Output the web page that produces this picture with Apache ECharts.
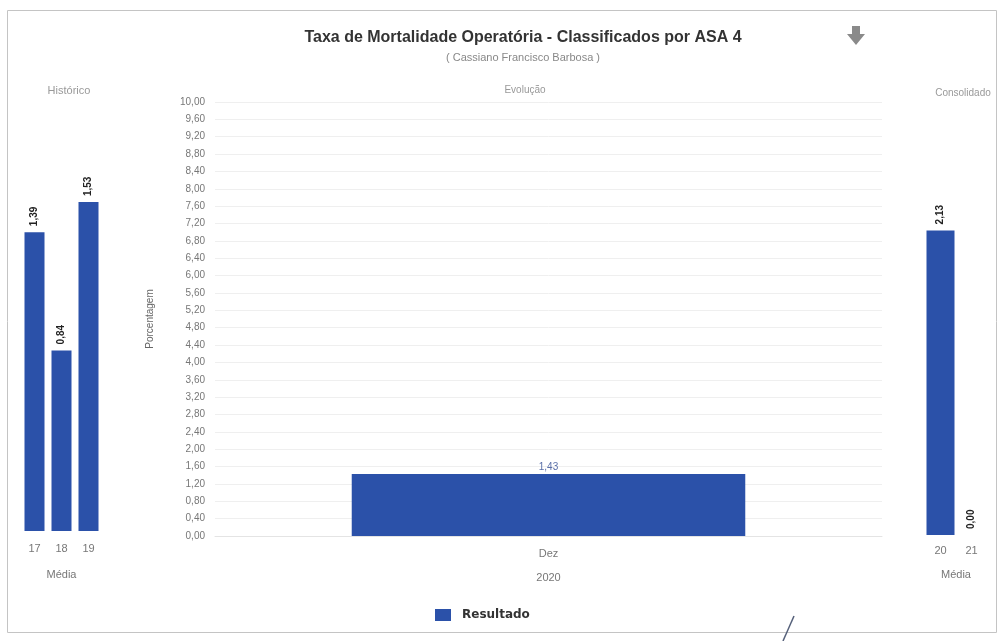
<!DOCTYPE html>
<html>
<head>
<meta charset="utf-8">
<script src="https://cdn.jsdelivr.net/npm/echarts@6/dist/echarts.min.js"></script>
<style>
  html, body { margin: 0; padding: 0; background: #fff; }
  #chart { width: 999px; height: 641px; }
</style>
</head>
<body>
<div id="chart"></div>
<script>
// dados
var histCats = ['17', '18', '19'];
var histValues = [1.39, 0.84, 1.53];
var evoCats = ['Dez'];
var evoValues = [1.43];
var consCats = ['20', '21'];
var consValues = [2.13, 0.00];
var evoMin = 0, evoMax = 10, evoStep = 0.4;

var azul = '#2b51a9';
var fonte = '"Liberation Sans", Arial, sans-serif';

function virgula(v) {
	return Number(v).toFixed(2).replace('.', ',');
}

// rótulo girado dos painéis laterais
var rotuloLateral = {
	show: true,
	position: 'top',
	rotate: 90,
	align: 'left',
	verticalAlign: 'middle',
	distance: 6,
	fontSize: 10,
	fontWeight: 'bold',
	color: '#222',
	fontFamily: fonte,
	formatter: function (p) { return virgula(p.value); }
};

const grafico = echarts.init(document.getElementById('chart'));
const opcoes = {
	animation: false,
	textStyle: { fontFamily: fonte },
	title: [
		{
			text: 'Taxa de Mortalidade Operatória - Classificados por ASA 4',
			subtext: '( Cassiano Francisco Barbosa )',
			left: 518, top: 25, textAlign: 'center', itemGap: 6,
			textStyle: { fontSize: 16, fontWeight: 'bold', color: '#333', fontFamily: fonte },
			subtextStyle: { fontSize: 11, color: '#888', fontFamily: fonte }
		},
		{ text: 'Histórico', left: 64, top: 80, textAlign: 'center',
			textStyle: { fontSize: 11, fontWeight: 'normal', color: '#999' } },
		{ text: 'Evolução', left: 520, top: 80, textAlign: 'center',
			textStyle: { fontSize: 10, fontWeight: 'normal', color: '#999' } },
		{ text: 'Consolidado', left: 958, top: 83, textAlign: 'center',
			textStyle: { fontSize: 10, fontWeight: 'normal', color: '#999' } }
	],
	legend: {
		data: ['Resultado'],
		icon: 'rect',
		left: 430, top: 604,
		itemWidth: 16, itemHeight: 12,
		textStyle: { fontSize: 12, fontWeight: 'bold', color: '#333', fontFamily: '"DejaVu Sans", sans-serif', padding: [0, 0, 0, 6] }
	},
	grid: [
		{ left: 21, width: 81, top: 101, bottom: 110 },
		{ left: 215, right: 117, top: 102, bottom: 105 },
		{ left: 925, width: 62, top: 106, bottom: 106 }
	],
	xAxis: [
		{
			gridIndex: 0, type: 'category', data: histCats,
			name: 'Média', nameLocation: 'middle', nameGap: 38,
			nameTextStyle: { fontSize: 11, color: '#777' },
			axisLine: { show: false }, axisTick: { show: false },
			axisLabel: { fontSize: 11, color: '#777', margin: 12 }
		},
		{
			gridIndex: 1, type: 'category', data: evoCats,
			name: '2020', nameLocation: 'middle', nameGap: 36,
			nameTextStyle: { fontSize: 11, color: '#777' },
			axisLine: { lineStyle: { color: '#e4e4e4' } }, axisTick: { show: false },
			axisLabel: { fontSize: 11, color: '#777', margin: 12 }
		},
		{
			gridIndex: 2, type: 'category', data: consCats,
			name: 'Média', nameLocation: 'middle', nameGap: 34,
			nameTextStyle: { fontSize: 11, color: '#777' },
			axisLine: { show: false }, axisTick: { show: false },
			axisLabel: { fontSize: 11, color: '#777', margin: 10 }
		}
	],
	yAxis: [
		{ gridIndex: 0, type: 'value', min: 0, max: 2, show: false },
		{
			gridIndex: 1, type: 'value', min: evoMin, max: evoMax, interval: evoStep,
			name: 'Porcentagem', nameLocation: 'middle', nameRotate: 90, nameGap: 60,
			nameTextStyle: { fontSize: 10, color: '#666' },
			axisLine: { show: false }, axisTick: { show: false },
			axisLabel: { fontSize: 10, color: '#777', margin: 10, formatter: virgula },
			splitLine: { lineStyle: { color: '#efefef' } }
		},
		{ gridIndex: 2, type: 'value', min: 0, max: 3, show: false }
	],
	series: [
		{
			name: 'Histórico', type: 'bar', xAxisIndex: 0, yAxisIndex: 0,
			data: histValues, barWidth: 20,
			itemStyle: { color: azul },
			label: rotuloLateral
		},
		{
			name: 'Resultado', type: 'bar', xAxisIndex: 1, yAxisIndex: 1,
			data: evoValues, barWidth: '59%',
			itemStyle: { color: azul },
			label: {
				show: true, position: 'top', distance: 2,
				fontSize: 10, color: '#5a6fa8',
				formatter: function (p) { return virgula(p.value); }
			}
		},
		{
			name: 'Consolidado', type: 'bar', xAxisIndex: 2, yAxisIndex: 2,
			data: consValues, barWidth: 28,
			itemStyle: { color: azul },
			label: rotuloLateral
		}
	],
	graphic: [
		{
			type: 'rect', silent: true, z: -1,
			shape: { x: 7.5, y: 10.5, width: 989, height: 622 },
			style: { fill: 'none', stroke: '#c4c4c4', lineWidth: 1 }
		},
		{
			// ícone de exportação
			type: 'polygon', silent: true,
			shape: { points: [[852, 26], [860, 26], [860, 34], [865, 34], [856, 45], [847, 34], [852, 34]] },
			style: { fill: '#8a8a8a' }
		},
		{
			type: 'line', silent: true,
			shape: { x1: 794, y1: 616, x2: 783, y2: 641 },
			style: { stroke: '#55607a', lineWidth: 1.5 }
		}
	]
};
grafico.setOption(opcoes);

window.onresize = function () {
	grafico.resize();
};
</script>
</body>
</html>
